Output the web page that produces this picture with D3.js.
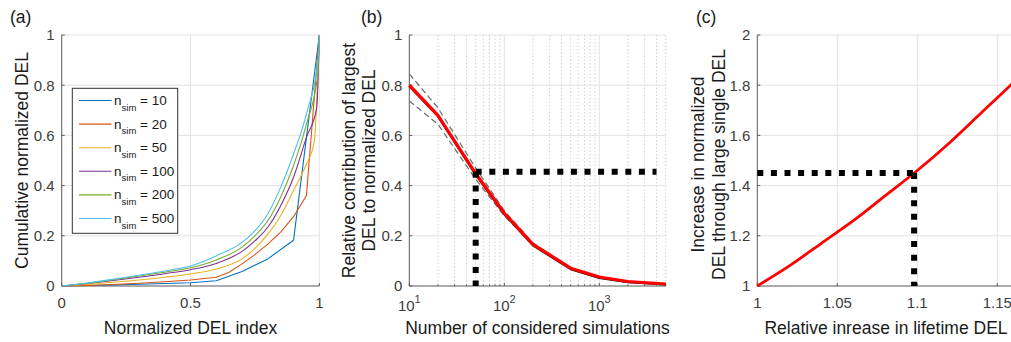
<!DOCTYPE html>
<html><head><meta charset="utf-8">
<script src="https://cdn.jsdelivr.net/npm/d3@7"></script>
<style>
body{margin:0;background:#fff}
svg{display:block}
text{font-family:"Liberation Sans",Arial,Helvetica,sans-serif}
</style>
</head><body>
<svg id="chart" width="1011" height="342"></svg>
<script>
// ---------- Panel (a) data ----------
const seriesLabels = ["10", "20", "50", "100", "200", "500"];
const seriesColors = ["#0072BD", "#D95319", "#EDB120", "#7E2F8E", "#77AC30", "#4DBEEE"];
const xN10  = [0, 0.1, 0.2, 0.3, 0.4, 0.5, 0.6, 0.7, 0.8, 0.9, 1];
const yN10  = [0, 0.002, 0.004, 0.007, 0.010, 0.013, 0.021, 0.058, 0.108, 0.182, 1];
const xN20  = [0, 0.1, 0.2, 0.3, 0.4, 0.5, 0.6, 0.65, 0.7, 0.75, 0.8, 0.85, 0.9, 0.95, 1];
const yN20  = [0, 0.002, 0.006, 0.011, 0.017, 0.024, 0.035, 0.055, 0.088, 0.125, 0.167, 0.215, 0.276, 0.360, 1];
const xN50  = [0, 0.1, 0.2, 0.3, 0.4, 0.5, 0.6, 0.7, 0.75, 0.8, 0.85, 0.9, 0.95, 0.98, 1];
const yN50  = [0, 0.006, 0.015, 0.024, 0.035, 0.048, 0.068, 0.108, 0.150, 0.207, 0.280, 0.380, 0.486, 0.572, 1];
const xN100 = [0, 0.1, 0.2, 0.3, 0.4, 0.5, 0.6, 0.7, 0.75, 0.8, 0.85, 0.9, 0.95, 0.99, 1];
const yN100 = [0, 0.010, 0.022, 0.035, 0.049, 0.065, 0.090, 0.138, 0.180, 0.234, 0.320, 0.433, 0.592, 0.710, 1];
const xN200 = [0, 0.1, 0.2, 0.3, 0.4, 0.5, 0.6, 0.7, 0.75, 0.8, 0.85, 0.9, 0.95, 0.995, 1];
const yN200 = [0, 0.011, 0.025, 0.040, 0.055, 0.073, 0.104, 0.155, 0.200, 0.260, 0.354, 0.480, 0.645, 0.850, 1];
const xN500 = [0, 0.1, 0.2, 0.3, 0.4, 0.5, 0.6, 0.7, 0.75, 0.8, 0.85, 0.9, 0.95, 0.998, 1];
const yN500 = [0, 0.012, 0.027, 0.043, 0.060, 0.080, 0.120, 0.174, 0.220, 0.287, 0.393, 0.526, 0.685, 0.930, 1];
const ticksA_x = [0, 0.5, 1];
const ticksA_y = [0, 0.2, 0.4, 0.6, 0.8, 1];

// ---------- Panel (b) data ----------
const nSim       = [10, 20, 50, 100, 200, 500, 1000, 2000, 5000];
const contribMain  = [0.800, 0.680, 0.448, 0.290, 0.166, 0.071, 0.036, 0.018, 0.008];
const contribBlack = [0.796, 0.677, 0.444, 0.286, 0.162, 0.067, 0.032, 0.015, 0.006];
const contribUpper = [0.845, 0.710, 0.470, 0.300, 0.172, 0.072, 0.036, 0.018, 0.008];
const contribLower = [0.737, 0.645, 0.425, 0.280, 0.163, 0.068, 0.035, 0.017, 0.008];
const markerB_n = [4000, 50, 50];
const markerB_y = [0.455, 0.455, 0];
const ticksB_x = [10, 100, 1000];
const ticksB_xExp = ["1", "2", "3"];
const ticksB_y = [0, 0.2, 0.4, 0.6, 0.8, 1];

// ---------- Panel (c) data ----------
const relIncrease = [1.00, 1.02, 1.04, 1.06, 1.08, 1.10, 1.12, 1.14, 1.16];
const normIncrease = [1.00, 1.08, 1.17, 1.26, 1.36, 1.46, 1.57, 1.69, 1.81];
const markerC_x = [1, 1.098, 1.098];
const markerC_y = [1.45, 1.45, 1];
const ticksC_x = [1, 1.05, 1.1, 1.15];
const ticksC_y = [1, 1.2, 1.4, 1.6, 1.8, 2];

// ---------- drawing ----------
const svg = d3.select("#chart");
const GRID = "#e3e3e3", AXIS = "#595959", TICKTXT = "#3c3c3c", LABEL = "#1a1a1a";
const TOP = 35, BOTTOM = 286;

function gridH(g, ys, yScale, x0, x1) {
  g.selectAll(null).data(ys).enter().append("line")
    .attr("x1", x0).attr("x2", x1).attr("y1", d => yScale(d)).attr("y2", d => yScale(d))
    .attr("stroke", GRID).attr("stroke-width", 1);
}
function gridV(g, xs, xScale, dash, color) {
  g.selectAll(null).data(xs).enter().append("line")
    .attr("x1", d => xScale(d)).attr("x2", d => xScale(d)).attr("y1", TOP).attr("y2", BOTTOM)
    .attr("stroke", color || GRID).attr("stroke-width", 1)
    .attr("stroke-dasharray", dash || null);
}
function axes(g, xScale, yScale, xt, yt, fmtX, fmtY, xRange) {
  const x0 = xRange[0], x1 = xRange[1];
  g.append("line").attr("x1", x0).attr("x2", x0).attr("y1", TOP).attr("y2", BOTTOM)
    .attr("stroke", AXIS).attr("stroke-width", 1);
  g.append("line").attr("x1", x0).attr("x2", x1).attr("y1", BOTTOM).attr("y2", BOTTOM)
    .attr("stroke", AXIS).attr("stroke-width", 1);
  g.selectAll(null).data(yt).enter().append("line")
    .attr("x1", x0).attr("x2", x0 + 3).attr("y1", d => yScale(d)).attr("y2", d => yScale(d))
    .attr("stroke", AXIS);
  g.selectAll(null).data(xt).enter().append("line")
    .attr("x1", d => xScale(d)).attr("x2", d => xScale(d)).attr("y1", BOTTOM).attr("y2", BOTTOM - 3)
    .attr("stroke", AXIS);
  g.selectAll(null).data(yt).enter().append("text")
    .attr("x", x0 - 7).attr("y", d => yScale(d)).attr("dy", "0.36em")
    .attr("text-anchor", "end").attr("font-size", 15).attr("fill", TICKTXT)
    .text(fmtY);
  if (fmtX) {
    g.selectAll(null).data(xt).enter().append("text")
      .attr("x", d => xScale(d)).attr("y", 308)
      .attr("text-anchor", "middle").attr("font-size", 15).attr("fill", TICKTXT)
      .text(fmtX);
  }
}
function xLabel(text, x) {
  svg.append("text").attr("x", x).attr("y", 334).attr("text-anchor", "middle")
    .attr("font-size", 17.5).attr("fill", LABEL).text(text);
}
function yLabel(lines, xs, yc) {
  lines.forEach((t, i) => {
    svg.append("text").attr("transform", `translate(${xs[i]},${yc}) rotate(-90)`)
      .attr("text-anchor", "middle").attr("dy", "0.35em")
      .attr("font-size", 17.5).attr("fill", LABEL).text(t);
  });
}
function panelTag(t, x) {
  svg.append("text").attr("x", x).attr("y", 23).attr("font-size", 17.5).attr("fill", LABEL).text(t);
}

// ===== Panel (a) =====
const xA = d3.scaleLinear().domain([0, 1]).range([61.7, 319.3]);
const yA = d3.scaleLinear().domain([0, 1]).range([BOTTOM, TOP]);
const gA = svg.append("g");
gridH(gA, ticksA_y.filter(d => d > 0), yA, xA(0), xA(1));
gridV(gA, ticksA_x.filter(d => d > 0), xA);
axes(gA, xA, yA, ticksA_x, ticksA_y, d => String(d), d => String(d), [xA(0), xA(1)]);
const seriesA = [[xN10, yN10], [xN20, yN20], [xN50, yN50], [xN100, yN100], [xN200, yN200], [xN500, yN500]];
const lineA = d3.line().x(d => xA(d[0])).y(d => yA(d[1]));
const lineAsmooth = d3.line().x(d => xA(d[0])).y(d => yA(d[1])).curve(d3.curveMonotoneX);
seriesA.forEach((s, i) => {
  const pts = s[0].map((x, j) => [x, s[1][j]]);
  gA.append("path").attr("d", (i < 2 ? lineA : lineAsmooth)(pts)).attr("fill", "none")
    .attr("stroke", seriesColors[i]).attr("stroke-width", 1.1).attr("stroke-linejoin", "round");
});
// legend
const leg = gA.append("g");
leg.append("rect").attr("x", 72.3).attr("y", 88.3).attr("width", 105.4).attr("height", 145)
  .attr("fill", "#fff").attr("stroke", "#333").attr("stroke-width", 1);
seriesLabels.forEach((lab, i) => {
  const yy = 100.5 + i * 23.6;
  leg.append("line").attr("x1", 79).attr("x2", 111.5).attr("y1", yy).attr("y2", yy)
    .attr("stroke", seriesColors[i]).attr("stroke-width", 1.1);
  const t = leg.append("text").attr("x", 114).attr("y", yy + 4.5).attr("font-size", 13.5).attr("fill", LABEL);
  t.append("tspan").text("n");
  t.append("tspan").attr("font-size", 9.5).attr("dy", 5.5).text("sim");
  t.append("tspan").attr("dy", -5.5).text(" = " + lab);
});
xLabel("Normalized DEL index", (xA(0) + xA(1)) / 2);
yLabel(["Cumulative normalized DEL"], [21.5], (TOP + BOTTOM) / 2);
panelTag("(a)", 10);

// ===== Panel (b) =====
const xB = d3.scaleLog().domain([10, 5000]).range([409.3, 665.7]);
const yB = d3.scaleLinear().domain([0, 1]).range([BOTTOM, TOP]);
const gB = svg.append("g");
const minorB = [];
[10, 100, 1000].forEach(dec => { for (let k = 2; k <= 9; k++) { if (dec * k <= 5000) minorB.push(dec * k); } });
gridV(gB, minorB, xB, "1.5,2", "#d2d2d2");
gridV(gB, ticksB_x.filter(d => d > 10), xB);
gridH(gB, ticksB_y.filter(d => d > 0), yB, xB(10), xB(5000));
axes(gB, xB, yB, ticksB_x, ticksB_y, null, d => String(d), [xB(10), xB(5000)]);
gB.selectAll(null).data(minorB).enter().append("line")
  .attr("x1", d => xB(d)).attr("x2", d => xB(d)).attr("y1", BOTTOM).attr("y2", BOTTOM - 1.5)
  .attr("stroke", AXIS);
ticksB_x.forEach((v, i) => {
  const t = gB.append("text").attr("x", xB(v)).attr("y", 311).attr("text-anchor", "middle")
    .attr("font-size", 15).attr("fill", TICKTXT);
  t.append("tspan").text("10");
  t.append("tspan").attr("font-size", 11).attr("dy", -8).text(ticksB_xExp[i]);
});
const lineB = d3.line().x(d => xB(d[0])).y(d => yB(d[1]));
const zipB = arr => nSim.map((n, j) => [n, arr[j]]);
[contribUpper, contribLower].forEach(arr => {
  gB.append("path").attr("d", lineB(zipB(arr))).attr("fill", "none")
    .attr("stroke", "#6a6a6a").attr("stroke-width", 1.2).attr("stroke-dasharray", "6,3.5");
});
gB.append("path").attr("d", lineB(zipB(contribBlack))).attr("fill", "none")
  .attr("stroke", "#111").attr("stroke-width", 2.2).attr("stroke-linejoin", "round");
gB.append("path").attr("d", lineB(zipB(contribMain))).attr("fill", "none")
  .attr("stroke", "#ff0000").attr("stroke-width", 3.2).attr("stroke-linejoin", "round");
const mB = markerB_n.map((n, j) => [n, markerB_y[j]]);
[[mB[1], mB[0]], [mB[1], mB[2]]].forEach(seg => {
  gB.append("path").attr("d", lineB(seg)).attr("fill", "none")
    .attr("stroke", "#000").attr("stroke-width", 6).attr("stroke-dasharray", "6,7.6");
});
xLabel("Number of considered simulations", (xB(10) + xB(5000)) / 2);
yLabel(["Relative contribution of largest", "DEL to normalized DEL"], [348.5, 368.5], (TOP + BOTTOM) / 2);
panelTag("(b)", 361);

// ===== Panel (c) =====
const xC = d3.scaleLinear().domain([1, 1.16]).range([757.3, 1013.3]);
const yC = d3.scaleLinear().domain([1, 2]).range([BOTTOM, TOP]);
const gC = svg.append("g");
gridH(gC, ticksC_y.filter(d => d > 1), yC, xC(1), xC(1.16));
gridV(gC, ticksC_x.filter(d => d > 1), xC);
axes(gC, xC, yC, ticksC_x, ticksC_y, d => String(d), d => String(d), [xC(1), xC(1.16)]);
const lineC = d3.line().x(d => xC(d[0])).y(d => yC(d[1])).curve(d3.curveMonotoneX);
gC.append("path").attr("d", lineC(relIncrease.map((x, j) => [x, normIncrease[j]])))
  .attr("fill", "none").attr("stroke", "#ff0000").attr("stroke-width", 2.8);
const lineCm = d3.line().x(d => xC(d[0])).y(d => yC(d[1]));
const mC = markerC_x.map((x, j) => [x, markerC_y[j]]);
[[mC[0], mC[1]], [mC[1], mC[2]]].forEach(seg => {
  gC.append("path").attr("d", lineCm(seg)).attr("fill", "none")
    .attr("stroke", "#000").attr("stroke-width", 6).attr("stroke-dasharray", "6,7.6");
});
xLabel("Relative inrease in lifetime DEL", 886);
yLabel(["Increase in normalized", "DEL through large single DEL"], [698, 718.5], 164.5);
panelTag("(c)", 696);
</script>
</body></html>
